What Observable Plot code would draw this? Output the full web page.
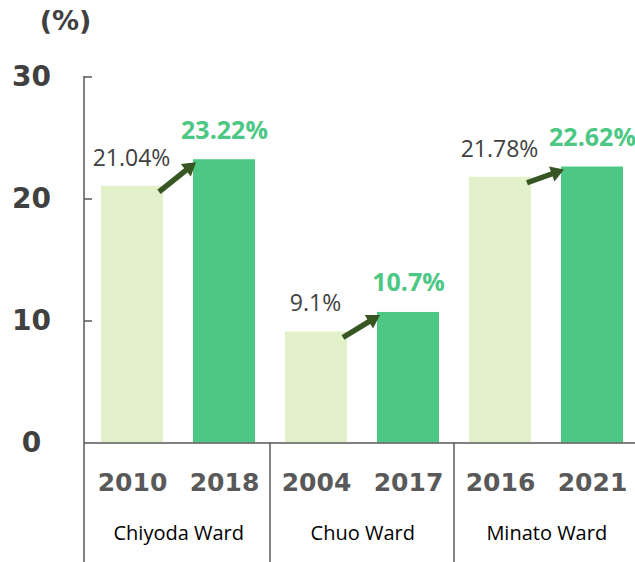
<!DOCTYPE html>
<html><head><meta charset="utf-8">
<script src="https://cdn.jsdelivr.net/npm/d3@7"></script>
<script src="https://cdn.jsdelivr.net/npm/@observablehq/plot@0.6"></script>
<style>body{margin:0;background:#fff}#chart svg{display:block}</style>
</head><body><div id="chart"></div>
<script>
const wards = ["Chiyoda Ward", "Chuo Ward", "Minato Ward"];
const yearsBefore = ["2010", "2004", "2016"];
const yearsAfter = ["2018", "2017", "2021"];
const valuesBefore = [21.04, 9.1, 21.78];
const valuesAfter = [23.22, 10.7, 22.62];
const labelsBefore = ["21.04%", "9.1%", "21.78%"];
const labelsAfter = ["23.22%", "10.7%", "22.62%"];
const yTicks = [0, 10, 20, 30];
const unitLabel = "(%)";

const LIGHT = "#E2F1C9", DARK = "#4CC784", ARROW = "#375623", AXIS = "#595959", TXT = "#404040";

const rows = [];
wards.forEach((w, i) => {
  rows.push({ward: w, year: yearsBefore[i], value: valuesBefore[i], label: labelsBefore[i], phase: "before"});
  rows.push({ward: w, year: yearsAfter[i], value: valuesAfter[i], label: labelsAfter[i], phase: "after"});
});
const arrowsData = wards.map((w, i) => ({from: yearsBefore[i], to: yearsAfter[i], v1: valuesBefore[i], v2: valuesAfter[i]}));
const wardRows = wards.map((w, i) => ({ward: w, year: yearsBefore[i]}));

const W = 635, H = 562, ML = 84;
const xRange = [84.5, 639.5];
const step = (xRange[1] - xRange[0]) / rows.length;

function frameLines(index, scales, values, dims) {
  const g = d3.create("svg:g").attr("stroke", AXIS).attr("stroke-width", 1.5).attr("fill", "none");
  const sx = scales.x, sy = scales.y;
  const bw = sx.bandwidth ? sx.bandwidth() : step * 0.676;
  const st = sx.step ? sx.step() : step;
  g.append("line").attr("x1", ML).attr("x2", ML).attr("y1", sy(30) - 0.5).attr("y2", dims.height);
  for (const d of ["2004", "2016"]) {
    const x = sx(d) - (st - bw) / 2;
    g.append("line").attr("x1", x).attr("x2", x).attr("y1", sy(0)).attr("y2", dims.height);
  }
  return g.node();
}

function drawArrows(index, scales, values, dims) {
  const g = d3.create("svg:g");
  const sx = scales.x, sy = scales.y;
  const bw = sx.bandwidth ? sx.bandwidth() : step * 0.676;
  for (const i of index) {
    const d = arrowsData[i];
    const x0 = sx(d.from) + bw - 4, y0 = sy(d.v1) + 6;
    const x1 = sx(d.to) + 3, y1 = sy(d.v2) + 3;
    const dx = x1 - x0, dy = y1 - y0, L = Math.hypot(dx, dy);
    const ux = dx / L, uy = dy / L, px = -uy, py = ux;
    const hl = 13, hw = 8;
    const bx = x1 - ux * hl, by = y1 - uy * hl;
    g.append("line").attr("x1", x0).attr("y1", y0).attr("x2", bx + ux * 2).attr("y2", by + uy * 2)
      .attr("stroke", ARROW).attr("stroke-width", 5.5);
    g.append("polygon").attr("points", `${x1},${y1} ${bx + px * hw},${by + py * hw} ${bx - px * hw},${by - py * hw}`)
      .attr("fill", ARROW);
  }
  return g.node();
}

const chart = Plot.plot({
  width: W, height: H,
  marginLeft: ML, marginRight: 0, marginTop: 76.5, marginBottom: H - 442.5,
  style: {background: "#fff", overflow: "visible"},
  x: {type: "band", domain: rows.map(d => d.year), range: xRange, paddingInner: 0.324, paddingOuter: 0.162, axis: null},
  y: {domain: [0, 30], range: [442.5, 76.5], axis: null},
  color: {domain: ["before", "after"], range: [LIGHT, DARK]},
  marks: [
    Plot.barY(rows, {x: "year", y: "value", fill: "phase"}),
    Plot.ruleY([0], {stroke: AXIS, strokeWidth: 1.5}),
    Plot.ruleY(yTicks.filter(t => t > 0), {y: d => d, stroke: AXIS, strokeWidth: 1.5, insetRight: W - ML - 8}),
    Plot.ruleX(["2004", "2016"], {x: d => d, render: frameLines}),
    Plot.text(yTicks, {y: d => d, text: d => String(d), frameAnchor: "left", dx: -53, textAnchor: "middle",
      fontFamily: "DejaVu Sans", fontWeight: "bold", fontSize: 28, fill: TXT}),
    Plot.text([unitLabel], {frameAnchor: "top-left", text: d => d, dx: -19, dy: -55.5, textAnchor: "middle", lineAnchor: "middle",
      fontFamily: "DejaVu Sans", fontWeight: "bold", fontSize: 27, fill: TXT, letterSpacing: 3}),
    Plot.text(rows.filter(d => d.phase === "before"), {x: "year", y: "value", text: "label", dy: -28, dx: -1,
      fontFamily: "Open Sans", fontSize: 23, fill: TXT}),
    Plot.text(rows.filter(d => d.phase === "after"), {x: "year", y: "value", text: "label", dy: -29,
      fontFamily: "Open Sans", fontWeight: "bold", fontSize: 25, fill: DARK}),
    Plot.text(rows, {x: "year", y: () => 0, text: "year", dy: 39.5,
      fontFamily: "DejaVu Sans", fontWeight: "bold", fontSize: 25, fill: AXIS}),
    Plot.text(wardRows, {x: "year", y: () => 0, text: "ward", dx: step / 2, dy: 90.5,
      fontFamily: "Open Sans", fontSize: 20, fill: "#000"}),
    Plot.arrow(arrowsData, {x1: "from", x2: "to", y1: "v1", y2: "v2", render: drawArrows})
  ]
});
document.getElementById("chart").appendChild(chart);
</script>
</body></html>
